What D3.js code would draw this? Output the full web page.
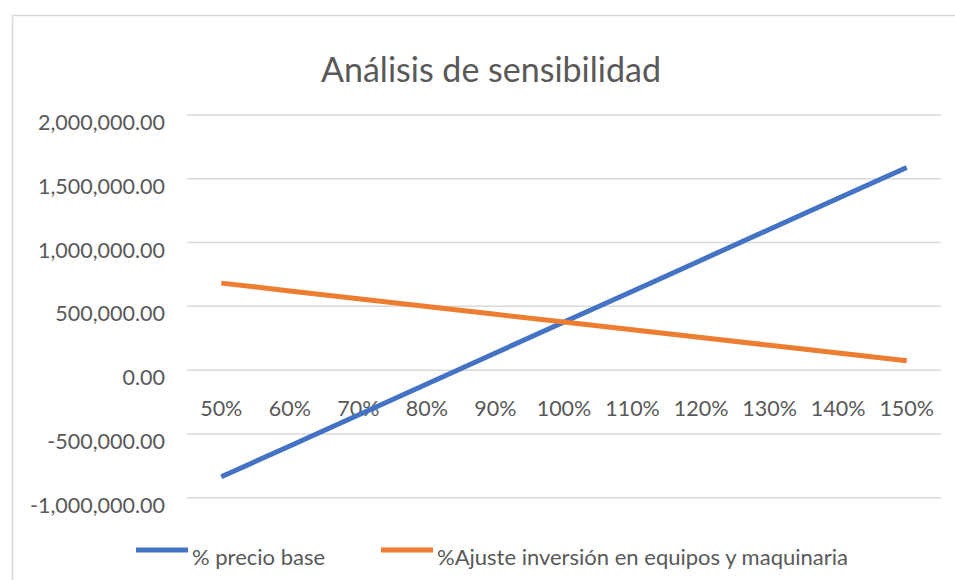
<!DOCTYPE html>
<html>
<head>
<meta charset="utf-8">
<script src="https://cdn.jsdelivr.net/npm/d3@7"></script>
<style>
  html, body { margin: 0; padding: 0; background: #fff; }
  svg { display: block; }
  text { font-family: Lato, "Open Sans", sans-serif; fill: #595959; }
</style>
</head>
<body>
<svg id="chart" width="955" height="580"></svg>
<script>
// Sensitivity scenarios (percentage of base value)
const categories = ["50%", "60%", "70%", "80%", "90%", "100%", "110%", "120%", "130%", "140%", "150%"];
const seriesNames = ["% precio base", "%Ajuste inversión en equipos y maquinaria"];
const precioBase = [-836000, -594000, -352000, -109000, 134000, 377000, 619000, 862000, 1104000, 1347000, 1589000];
const ajusteInversion = [682000, 621000, 560000, 499000, 438000, 377000, 317000, 256000, 195000, 134000, 73000];
const yTicks = [-1000000, -500000, 0, 500000, 1000000, 1500000, 2000000];
const colors = ["#4472C4", "#ED7D31"];

const svg = d3.select("#chart");

// chart frame
svg.append("rect")
  .attr("x", 12.5).attr("y", 15.5)
  .attr("width", 960).attr("height", 600)
  .attr("fill", "#fff").attr("stroke", "#d9d9d9").attr("stroke-width", 1.5);

const x = d3.scaleBand().domain(categories).range([187, 941]).padding(0);
const y = d3.scaleLinear().domain([-1000000, 2000000]).range([497.7, 115]);

// title
svg.append("text")
  .attr("x", 491).attr("y", 82)
  .attr("text-anchor", "middle")
  .style("font-size", "34px")
  .text("Análisis de sensibilidad");

// horizontal gridlines
svg.append("g").selectAll("line").data(yTicks).join("line")
  .attr("x1", 187).attr("x2", 941)
  .attr("y1", d => y(d)).attr("y2", d => y(d))
  .attr("stroke", "#d9d9d9").attr("stroke-width", 1.5);

// y axis labels (plain hyphen for negatives)
const fmt = v => d3.format(",.2f")(v).replace("\u2212", "-");
svg.append("g").selectAll("text").data(yTicks).join("text")
  .attr("x", 165).attr("y", d => y(d) + 15)
  .attr("text-anchor", "end")
  .style("font-size", "21.5px")
  .text(d => fmt(d));

// x axis labels (sit just under the zero line)
svg.append("g").selectAll("text").data(categories).join("text")
  .attr("x", d => x(d) + x.bandwidth() / 2)
  .attr("y", 416)
  .attr("text-anchor", "middle")
  .style("font-size", "21.5px")
  .text(d => d);

// series lines
const line = d3.line()
  .x((d, i) => x(categories[i]) + x.bandwidth() / 2)
  .y(d => y(d));

[precioBase, ajusteInversion].forEach((vals, i) => {
  svg.append("path")
    .datum(vals)
    .attr("d", line)
    .attr("fill", "none")
    .attr("stroke", colors[i])
    .attr("stroke-width", 5)
    .attr("stroke-linejoin", "round");
});

// legend
const legendItems = [
  { name: seriesNames[0], color: colors[0], x: 136 },
  { name: seriesNames[1], color: colors[1], x: 381 }
];
const lg = svg.append("g").selectAll("g").data(legendItems).join("g")
  .attr("transform", d => `translate(${d.x},550)`);
lg.append("line")
  .attr("x1", 0).attr("x2", 52).attr("y1", 0).attr("y2", 0)
  .attr("stroke", d => d.color).attr("stroke-width", 5);
lg.append("text")
  .attr("x", 56).attr("y", 15)
  .style("font-size", "22px")
  .text(d => d.name);
</script>
</body>
</html>
